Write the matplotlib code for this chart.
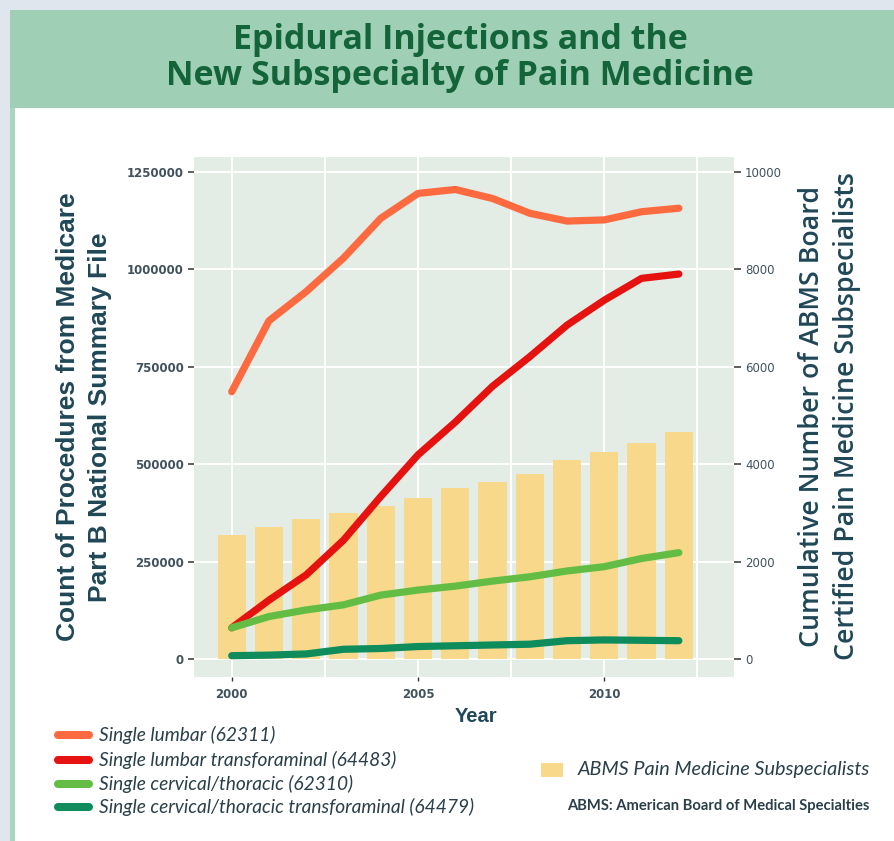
import matplotlib

matplotlib.use("Agg")
import matplotlib.pyplot as plt
from matplotlib import font_manager
from matplotlib.lines import Line2D
from matplotlib.patches import Rectangle
from matplotlib.ticker import FixedLocator, StrMethodFormatter

# values
years = list(range(2000, 2013))
single_lumbar = [686000, 868000, 943000, 1029000, 1131000, 1195000, 1205000,
                 1182000, 1144000, 1124000, 1127000, 1148000, 1157000]
lumbar_transforaminal = [80000, 151000, 216000, 305000, 417000, 524000, 608000,
                         700000, 776000, 857000, 921000, 977000, 988000]
cervical_thoracic = [80000, 109000, 126000, 139000, 164000, 177000, 187000,
                     200000, 211000, 226000, 237000, 258000, 273000]
cervical_transforaminal = [8500, 10000, 13000, 25000, 27000, 32000, 34000,
                           36000, 38000, 47000, 49000, 48000, 47000]
subspecialists = [2546, 2717, 2875, 2992, 3142, 3300, 3505, 3641, 3799, 4086, 4257, 4442, 4668]

series_names = [
    "Single lumbar (62311)",
    "Single lumbar transforaminal (64483)",
    "Single cervical/thoracic (62310)",
    "Single cervical/thoracic transforaminal (64479)",
]
series_values = [single_lumbar, lumbar_transforaminal, cervical_thoracic, cervical_transforaminal]
series_colors = ["#fd6a3f", "#e5120f", "#63bd45", "#0e8c5c"]
bar_label = "ABMS Pain Medicine Subspecialists"
bar_color = "#f8d98c"

left_ticks = [0, 250000, 500000, 750000, 1000000, 1250000]
right_ticks = [0, 2000, 4000, 6000, 8000, 10000]
year_ticks = [2000, 2005, 2010]

title_lines = ["Epidural Injections and the", "New Subspecialty of Pain Medicine"]
left_title = ["Count of Procedures from Medicare", "Part B National Summary File"]
right_title = ["Cumulative Number of ABMS Board", "Certified Pain Medicine Subspecialists"]
footnote = "ABMS: American Board of Medical Specialties"


def pick_font(*names):
    installed = {f.name for f in font_manager.fontManager.ttflist}
    for name in names:
        if name in installed:
            return name
    return "DejaVu Sans"


title_font = pick_font("Open Sans", "Lato", "DejaVu Sans")
legend_font = pick_font("Lato", "Open Sans", "DejaVu Sans")
arial = pick_font("Liberation Sans", "DejaVu Sans")
side_font = pick_font("Open Sans", "Lato", "DejaVu Sans")

header_green = "#9fd0b5"
title_green = "#14643a"
dark_teal = "#1f4757"
tick_gray = "#41525c"
legend_text = "#2a3f48"
panel_bg = "#e4ece6"

W, H = 894, 841


def fx(x):
    return x / W


def fy(y):
    return 1 - y / H


fig = plt.figure(figsize=(W / 100, H / 100), dpi=100)
fig.patch.set_facecolor("#dfe6ee")

# card + header band
fig.add_artist(Rectangle((fx(10), 0), 1 - fx(10), fy(108), transform=fig.transFigure,
                         facecolor="white", edgecolor="none", zorder=0))
fig.add_artist(Rectangle((fx(10), 0), fx(15) - fx(10), fy(108), transform=fig.transFigure,
                         facecolor="#a9d6bd", edgecolor="none", zorder=0))
fig.add_artist(Rectangle((fx(10), fy(108)), 1 - fx(10), fy(9.5) - fy(108), transform=fig.transFigure,
                         facecolor=header_green, edgecolor="none", zorder=0))

for line, base in zip(title_lines, [49, 85]):
    fig.text(0.515, fy(base), line, ha="center", va="baseline", fontsize=24.5,
             fontweight="bold", color=title_green, family=title_font)

# bars axis (right scale) carries background and grid
panel = [fx(193.7), fy(676.7), fx(734) - fx(193.7), fy(156.7) - fy(676.7)]
ax_bar = fig.add_axes(panel)
ax_bar.set_facecolor(panel_bg)
ax_bar.bar(years, subspecialists, width=0.76, color=bar_color, zorder=2)
ax_bar.set_ylim(-363.2, 10313.6)
ax_bar.set_xlim(1998.98, 2013.48)

# lines axis (left scale) on top
ax = ax_bar.twinx()
ax.yaxis.tick_left()
ax_bar.yaxis.tick_right()
ax.set_ylim(-45400, 1289200)
for values, color in zip(series_values, series_colors):
    ax.plot(years, values, color=color, linewidth=5.2, solid_capstyle="round",
            solid_joinstyle="round", zorder=3)

ax_bar.yaxis.set_major_locator(FixedLocator(right_ticks))
ax_bar.xaxis.set_major_locator(FixedLocator(year_ticks))
ax_bar.xaxis.set_minor_locator(FixedLocator([2002.5, 2007.5, 2012.5]))
ax_bar.set_axisbelow(True)
ax_bar.grid(which="major", color="white", linewidth=1.4)
ax_bar.grid(which="minor", axis="x", color="white", linewidth=1.4)
ax_bar.tick_params(which="minor", length=0)
ax_bar.tick_params(axis="y", length=5, width=1.1, color="#333333", pad=3,
                   labelsize=8.5, labelcolor=tick_gray)
ax_bar.tick_params(axis="x", length=3, width=1.0, color="#333333", pad=5,
                   labelsize=8.5, labelcolor=tick_gray)
for lbl in ax_bar.get_xticklabels():
    lbl.set_fontweight("bold")
for spine in ax_bar.spines.values():
    spine.set_visible(False)

ax.yaxis.set_major_locator(FixedLocator(left_ticks))
ax.yaxis.set_major_formatter(StrMethodFormatter("{x:.0f}"))
ax.tick_params(axis="y", length=4, width=1.1, color="#333333", pad=3,
               labelsize=8.5, labelcolor=tick_gray)
for lbl in ax.get_yticklabels():
    lbl.set_fontweight("bold")
for spine in ax.spines.values():
    spine.set_visible(False)

# axis titles
for line, x in zip(left_title, [68, 100]):
    fig.text(fx(x), fy(417), line, rotation=90, ha="center", va="center", fontsize=19,
             fontweight="bold", color=dark_teal, family=arial)
for line, x in zip(right_title, [812, 847]):
    fig.text(fx(x), fy(416), line, rotation=90, ha="center", va="center", fontsize=19.3,
             fontweight="semibold", color=dark_teal, family=side_font)
fig.text(fx(476), fy(716), "Year", ha="center", va="center", fontsize=14.5,
         fontweight="bold", color=dark_teal, family=arial)

# legend for the lines
for name, color, y in zip(series_names, series_colors, [735, 760, 784, 807]):
    fig.add_artist(Line2D([fx(58), fx(89)], [fy(y), fy(y)], transform=fig.transFigure,
                          color=color, linewidth=5.8, solid_capstyle="round"))
    fig.text(fx(99), fy(y), name, ha="left", va="center", fontsize=13.8, style="italic",
             color=legend_text, family=legend_font)

# legend for the bars
fig.add_artist(Rectangle((fx(541), fy(777)), fx(563) - fx(541), fy(763) - fy(777),
                         transform=fig.transFigure, facecolor=bar_color, edgecolor="none"))
fig.text(fx(578), fy(770), bar_label, ha="left", va="center", fontsize=14.3, style="italic",
         color=legend_text, family=legend_font)
fig.text(fx(869), fy(806), footnote, ha="right", va="center", fontsize=10.6,
         fontweight="bold", color=legend_text, family=legend_font)

fig.savefig("out.png", dpi=100, facecolor=fig.get_facecolor())
